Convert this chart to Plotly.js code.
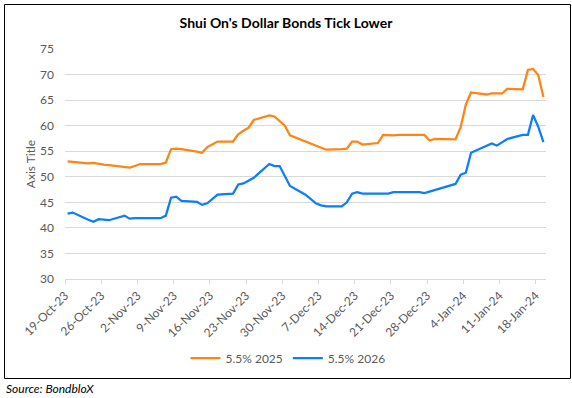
<!DOCTYPE html>
<html>
<head>
<meta charset="utf-8">
<script src="https://cdn.plot.ly/plotly-3.0.1.min.js"></script>
<style>
  html, body { margin: 0; padding: 0; background: #fff; }
  #chart { width: 572px; height: 398px; }
</style>
</head>
<body>
<div id="chart"></div>
<script>
const dates = [
  '2023-10-19','2023-10-20','2023-10-23','2023-10-24','2023-10-25','2023-10-26','2023-10-27',
  '2023-10-30','2023-10-31','2023-11-01','2023-11-02','2023-11-03',
  '2023-11-06','2023-11-07','2023-11-08','2023-11-09','2023-11-10',
  '2023-11-13','2023-11-14','2023-11-15','2023-11-16','2023-11-17',
  '2023-11-20','2023-11-21','2023-11-22','2023-11-23','2023-11-24',
  '2023-11-27','2023-11-28','2023-11-29','2023-11-30','2023-12-01',
  '2023-12-04','2023-12-05','2023-12-06','2023-12-07','2023-12-08',
  '2023-12-11','2023-12-12','2023-12-13','2023-12-14','2023-12-15',
  '2023-12-18','2023-12-19','2023-12-20','2023-12-21','2023-12-22',
  '2023-12-26','2023-12-27','2023-12-28','2023-12-29',
  '2024-01-02','2024-01-03','2024-01-04','2024-01-05',
  '2024-01-08','2024-01-09','2024-01-10','2024-01-11','2024-01-12',
  '2024-01-15','2024-01-16','2024-01-17','2024-01-18','2024-01-19'
];

const bond2025 = [
  53.0, 52.9, 52.6, 52.7, 52.5, 52.4, 52.3,
  51.9, 51.8, 52.1, 52.5, 52.5,
  52.5, 52.8, 55.4, 55.5, 55.4,
  54.9, 54.7, 55.8, 56.4, 56.9,
  56.9, 58.3, 59.0, 59.6, 61.1,
  62.0, 61.8, 60.8, 60.0, 58.1,
  null, null, null, null, 55.3,
  55.4, 55.5, 56.9, 56.9, 56.3,
  56.6, 58.2, 58.1, 58.1, 58.2,
  58.1, 58.2, 57.1, 57.4,
  57.3, 59.7, 64.1, 66.5,
  66.1, 66.3, 66.3, 66.3, 67.2,
  67.1, 70.9, 71.1, 69.9, 65.6
];

const bond2026 = [
  42.8, 43.0, 41.6, 41.2, 41.7, 41.6, 41.5,
  42.4, 41.8, 41.9, 41.9, 41.8,
  41.9, 42.4, 45.9, 46.1, 45.3,
  45.1, 44.5, 44.8, 45.7, 46.5,
  46.7, 48.5, 48.7, 49.3, 49.8,
  52.5, 52.1, 52.1, 50.0, 48.2,
  46.5, 45.6, 44.8, 44.4, 44.2,
  44.2, 45.0, 46.7, 47.0, 46.7,
  46.7, 46.7, 46.7, 47.0, 47.0,
  47.0, 46.8, 47.1, 47.3,
  48.6, 50.4, 50.8, 54.7,
  56.1, 56.5, 56.1, 56.8, 57.4,
  58.2, 58.2, 62.1, 59.8, 56.8
];

const seriesNames = ['5.5% 2025', '5.5% 2026'];

const tickDates = [
  '2023-10-19','2023-10-26','2023-11-02','2023-11-09','2023-11-16','2023-11-23','2023-11-30',
  '2023-12-07','2023-12-14','2023-12-21','2023-12-28','2024-01-04','2024-01-11','2024-01-18'
];
const tickLabels = [
  '19-Oct-23','26-Oct-23','2-Nov-23','9-Nov-23','16-Nov-23','23-Nov-23','30-Nov-23',
  '7-Dec-23','14-Dec-23','21-Dec-23','28-Dec-23','4-Jan-24','11-Jan-24','18-Jan-24'
];

const chartTitle = "Shui On's Dollar Bonds Tick Lower";
const yTitle = 'Axis Title';
const sourceText = 'Source: BondbloX';

// Excel date axis: each point sits in the middle of its day
const xMid = dates.map(d => d + ' 12:00');

const FONT = 'Lato, Calibri, Carlito, sans-serif';
const GREY = '#595959';

const traces = [
  { x: xMid, y: bond2025, name: seriesNames[0], type: 'scatter', mode: 'lines',
    connectgaps: true, line: { color: '#FF8413', width: 2.25 } },
  { x: xMid, y: bond2026, name: seriesNames[1], type: 'scatter', mode: 'lines',
    connectgaps: true, line: { color: '#0B7DFF', width: 2.25 } }
];

// plot area geometry in pixels
const L = 65, R = 546, T = 49, B = 279, W = 572, H = 398;
const px = x => (x - L) / (R - L);
const py = y => (B - y) / (B - T);

const layout = {
  width: W, height: H,
  margin: { l: L, r: W - R, t: T, b: H - B, pad: 0 },
  paper_bgcolor: '#ffffff', plot_bgcolor: '#ffffff',
  font: { family: FONT, size: 12, color: GREY },
  showlegend: true,
  title: {
    text: '<b>' + chartTitle + '</b>',
    font: { family: FONT, size: 14, color: '#000000' },
    x: 0.5, xref: 'container', xanchor: 'center',
    y: 1 - 23 / H, yref: 'container', yanchor: 'middle'
  },
  xaxis: {
    type: 'date',
    range: ['2023-10-19', '2024-01-20'],
    tickmode: 'array', tickvals: tickDates, ticktext: tickLabels,
    tickangle: -45,
    ticks: 'outside', ticklen: 4, tickcolor: '#d9d9d9', tickwidth: 1,
    showline: true, linecolor: '#d9d9d9', linewidth: 1,
    showgrid: false, zeroline: false,
    tickfont: { family: FONT, size: 12, color: GREY },
    fixedrange: true
  },
  yaxis: {
    range: [30, 75], dtick: 5, tick0: 30,
    showgrid: true, gridcolor: '#d9d9d9', gridwidth: 1,
    zeroline: false, showline: false, ticks: '',
    ticklabelstandoff: 10,
    tickfont: { family: FONT, size: 12, color: GREY },
    title: { text: yTitle, font: { family: FONT, size: 12, color: GREY }, standoff: 1 },
    automargin: false,
    fixedrange: true
  },
  legend: {
    orientation: 'h',
    x: px(288), xanchor: 'center',
    y: py(358), yanchor: 'middle',
    font: { family: FONT, size: 12, color: GREY },
    itemwidth: 30,
    bgcolor: 'rgba(0,0,0,0)'
  },
  shapes: [{
    type: 'rect', xref: 'paper', yref: 'paper',
    x0: px(4.5), x1: px(570.5), y0: py(378.5), y1: py(4.5),
    line: { color: '#000000', width: 1 }, fillcolor: 'rgba(0,0,0,0)'
  }],
  annotations: [{
    text: '<i>' + sourceText + '</i>',
    xref: 'paper', yref: 'paper',
    x: px(4), xanchor: 'left',
    y: py(388), yanchor: 'middle',
    showarrow: false,
    font: { family: FONT, size: 12, color: '#000000' }
  }]
};

Plotly.newPlot('chart', traces, layout, { displayModeBar: false, staticPlot: true });
</script>
</body>
</html>
